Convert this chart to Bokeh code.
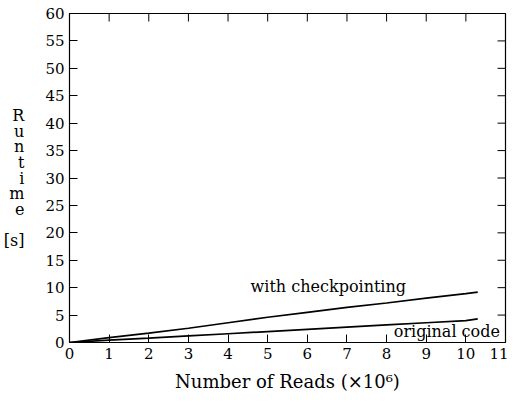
from bokeh.plotting import figure
from bokeh.models import Range1d, FixedTicker, Label
from bokeh.embed import file_html
from bokeh.resources import INLINE

# data
reads = [0, 1, 2, 3, 4, 5, 6, 7, 8, 9, 10, 10.3]
with_checkpointing = [0, 0.9, 1.7, 2.6, 3.6, 4.6, 5.5, 6.4, 7.2, 8.1, 8.9, 9.2]
original_code = [0, 0.45, 0.8, 1.2, 1.6, 2.0, 2.4, 2.8, 3.2, 3.6, 4.0, 4.3]
x_ticks = list(range(0, 12))
y_ticks = list(range(0, 61, 5))
series_names = ["with checkpointing", "original code"]
label_x = [6.53, 9.52]
label_y = [10.2, 2.0]

FONT = "DejaVu Serif"
X0, X1, Y0, Y1 = 0, 11, 0, 60
W, H = 508, 395
BL, BR, BT, BB = 60, 3, 13, 53
FW, FH = 437, 329
TICK = 8  # px

p = figure(width=W, height=H, output_backend="svg", toolbar_location=None,
           x_range=Range1d(X0, X1), y_range=Range1d(Y0, Y1),
           min_border_left=BL, min_border_right=BR, min_border_top=BT, min_border_bottom=BB,
           x_axis_label="Number of Reads (×10⁶)",
           y_axis_label="R\nu\nn\nt\ni\nm\ne\n\n[s]")
p.background_fill_color = "white"
p.border_fill_color = "white"
p.outline_line_color = "black"
p.outline_line_width = 1.2
p.xgrid.visible = False
p.ygrid.visible = False

for ax, ticks in ((p.xaxis[0], x_ticks), (p.yaxis[0], y_ticks)):
    ax.ticker = FixedTicker(ticks=ticks)
    ax.major_tick_in = TICK
    ax.major_tick_out = 0
    ax.minor_tick_line_color = None
    ax.axis_line_color = "black"
    ax.major_tick_line_color = "black"
    ax.major_label_text_font = FONT
    ax.major_label_text_font_size = "15px"
    ax.major_label_text_color = "black"
    ax.major_label_standoff = 5
    ax.axis_label_text_font = FONT
    ax.axis_label_text_font_style = "normal"
    ax.axis_label_text_color = "black"

p.xaxis[0].axis_label_text_font_size = "18px"
p.xaxis[0].axis_label_standoff = 9
p.yaxis[0].axis_label_text_font_size = "16px"
p.yaxis[0].axis_label_standoff = 18
p.yaxis[0].axis_label_orientation = "horizontal"
p.yaxis[0].axis_label_text_line_height = 0.82

# mirrored inward ticks on top and right edges
dx = TICK * (X1 - X0) / FW
dy = TICK * (Y1 - Y0) / FH
p.segment(x0=x_ticks, y0=[Y1] * len(x_ticks), x1=x_ticks, y1=[Y1 - dy] * len(x_ticks),
          line_color="black", line_width=1)
p.segment(x0=[X1] * len(y_ticks), y0=y_ticks, x1=[X1 - dx] * len(y_ticks), y1=y_ticks,
          line_color="black", line_width=1)

p.line(reads, with_checkpointing, line_color="black", line_width=1.7)
p.line(reads, original_code, line_color="black", line_width=1.7)

for name, lx, ly in zip(series_names, label_x, label_y):
    p.add_layout(Label(x=lx, y=ly, text=name, text_align="center", text_baseline="middle",
                       text_font=FONT, text_font_size="16px", text_color="black"))

open("out.html", "w").write(file_html(p, INLINE))
